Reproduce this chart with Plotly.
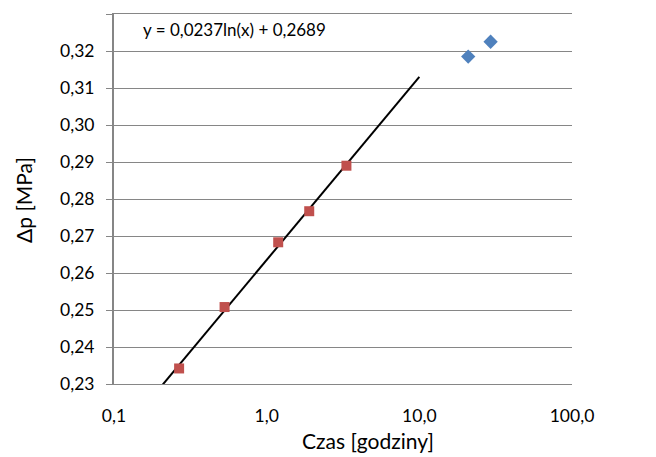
import numpy as np
import plotly.graph_objects as go

# Data
czas_fit = [0.267, 0.53, 1.19, 1.90, 3.33]          # hours (red squares)
dp_fit = [0.2342, 0.2508, 0.2683, 0.2767, 0.2890]   # MPa
czas_other = [20.9, 29.3]                           # hours (blue diamonds)
dp_other = [0.3185, 0.3225]                         # MPa
x_tick_vals = [0.1, 1, 10, 100]
x_tick_text = ["0,1", "1,0", "10,0", "100,0"]
equation_text = "y = 0,0237ln(x) + 0,2689"
x_title = "Czas [godziny]"
y_title = "Δp [MPa]"
trend_end = 10.0

# Logarithmic trendline fitted to the red points
a, b = np.polyfit(np.log(czas_fit), dp_fit, 1)
xs = np.geomspace(0.1, trend_end, 60)
ys = a * np.log(xs) + b

FONT = "Lato, Carlito, Calibri, sans-serif"

fig = go.Figure()
fig.add_trace(go.Scatter(x=xs, y=ys, mode="lines",
                         line=dict(color="black", width=2),
                         hoverinfo="skip", showlegend=False))
fig.add_trace(go.Scatter(x=czas_other, y=dp_other, mode="markers",
                         marker=dict(symbol="diamond", size=11, color="#4F81BD"),
                         showlegend=False, cliponaxis=False))
fig.add_trace(go.Scatter(x=czas_fit, y=dp_fit, mode="markers",
                         marker=dict(symbol="square", size=10, color="#C0504D"),
                         showlegend=False, cliponaxis=False))

fig.add_annotation(x=0.058, y=0.3258, xref="paper", yref="y", text=equation_text,
                   showarrow=False, xanchor="left", yanchor="middle",
                   font=dict(family=FONT, size=17, color="black"))
fig.add_annotation(x=0.555, y=-0.154, xref="paper", yref="paper", text=x_title,
                   showarrow=False, xanchor="center", yanchor="middle",
                   font=dict(family=FONT, size=21, color="black"))
fig.add_annotation(x=-0.199, y=0.497, xref="paper", yref="paper", text=y_title,
                   showarrow=False, xanchor="center", yanchor="middle", textangle=-90,
                   font=dict(family=FONT, size=21, color="black"))

fig.update_layout(
    width=648, height=449,
    margin=dict(l=106, r=84, t=6, b=73, autoexpand=False),
    paper_bgcolor="white", plot_bgcolor="white",
    separators=", ",
    font=dict(family=FONT, size=17.5, color="black"),
    xaxis=dict(type="log", range=[-1, 2], tickvals=x_tick_vals, ticktext=x_tick_text,
               showgrid=False, zeroline=False, showline=True, mirror=True,
               linecolor="#868686", linewidth=1, ticks="", automargin=False,
               ticklabelstandoff=16),
    yaxis=dict(range=[0.23, 0.33], dtick=0.01, tickformat=".2f",
               showgrid=True, gridcolor="#868686", gridwidth=1, zeroline=False,
               showline=True, linecolor="#868686", linewidth=2,
               ticks="outside", ticklen=6, tickcolor="#868686",
               automargin=False, ticklabelstandoff=8),
)

fig.write_html("out.html")
